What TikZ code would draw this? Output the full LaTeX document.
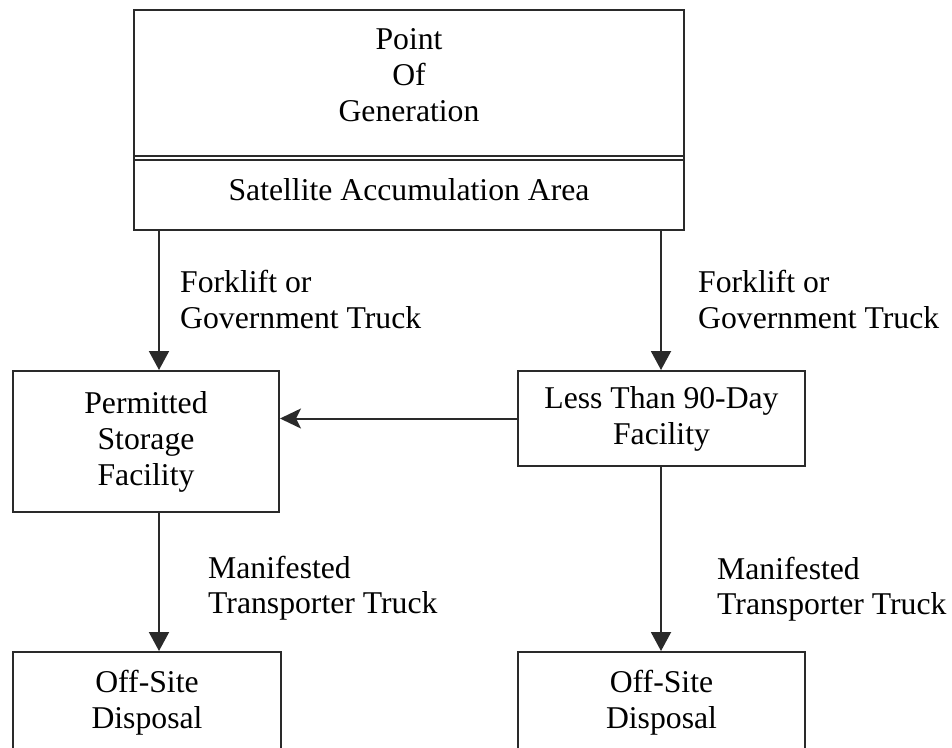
\documentclass[tikz,border=0pt]{standalone}
\usepackage{fontspec}
\setmainfont{Liberation Serif}
\usetikzlibrary{arrows.meta}
\definecolor{ln}{HTML}{2A2A2A}
\tikzset{
  txt/.style={font=\fontsize{31.7}{36}\selectfont, align=center, inner sep=0pt, text=black},
  box/.style={txt, draw=ln, line width=2pt, fill=white},
  lbl/.style={font=\fontsize{31.7}{35.5}\selectfont, align=left, inner sep=0pt, anchor=west, text=black},
  conn/.style={draw=ln, line width=2pt, -{Triangle[length=19pt,width=20pt]}},
  side/.style={draw=ln, line width=2pt, -{Stealth[length=21pt,width=20pt,inset=5pt]}}
}
\begin{document}
\begin{tikzpicture}[x=1pt,y=-1pt]
\useasboundingbox[fill=white] (0,0) rectangle (952,747);
% top box
\node[txt, minimum width=550pt, minimum height=146pt,
      label={[txt, yshift=8pt]center:Point\\Of\\Generation}] (gen) at (409,83) {};
\node[txt, minimum width=550pt, minimum height=70pt, text depth=11pt] (saa) at (409,195) {Satellite Accumulation Area};
\draw[ln, line width=2pt] (gen.north west) rectangle (saa.south east);
\draw[ln, line width=1.6pt] (gen.south west) -- (gen.south east);
\draw[ln, line width=1.6pt] (saa.north west) -- (saa.north east);
% middle boxes
\node[box, minimum width=266pt, minimum height=141pt] (psf) at (146,441.5) {Permitted\\Storage\\Facility};
\node[box, minimum width=287pt, minimum height=95pt] (ltf) at (661.5,418.5) {Less Than 90-Day\\Facility};
% bottom boxes
\node[box, minimum width=268pt, minimum height=101pt] (osl) at (147,702.5) {Off-Site\\Disposal};
\node[box, minimum width=287pt, minimum height=101pt] (osr) at (661.5,702.5) {Off-Site\\Disposal};
% connectors
\coordinate (a1) at (159,0);
\coordinate (a2) at (661,0);
\draw[conn] (saa.south -| a1) -- (psf.north -| a1);
\draw[conn] (saa.south -| a2) -- (ltf.north -| a2);
\draw[side] (ltf.west) -- (psf.east |- ltf.west);
\draw[conn] (psf.south -| a1) -- (osl.north -| a1);
\draw[conn] (ltf.south -| a2) -- (osr.north -| a2);
% labels
\node[lbl] (l1) at (180,299.5) {Forklift or\\Government Truck};
\node[lbl] (l2) at (698,299.5) {Forklift or\\Government Truck};
\node[lbl] (l3) at (208,588) {Manifested\\Transporter Truck};
\node[lbl] (l4) at (717,589) {Manifested\\Transporter Truck};
\end{tikzpicture}
\end{document}
